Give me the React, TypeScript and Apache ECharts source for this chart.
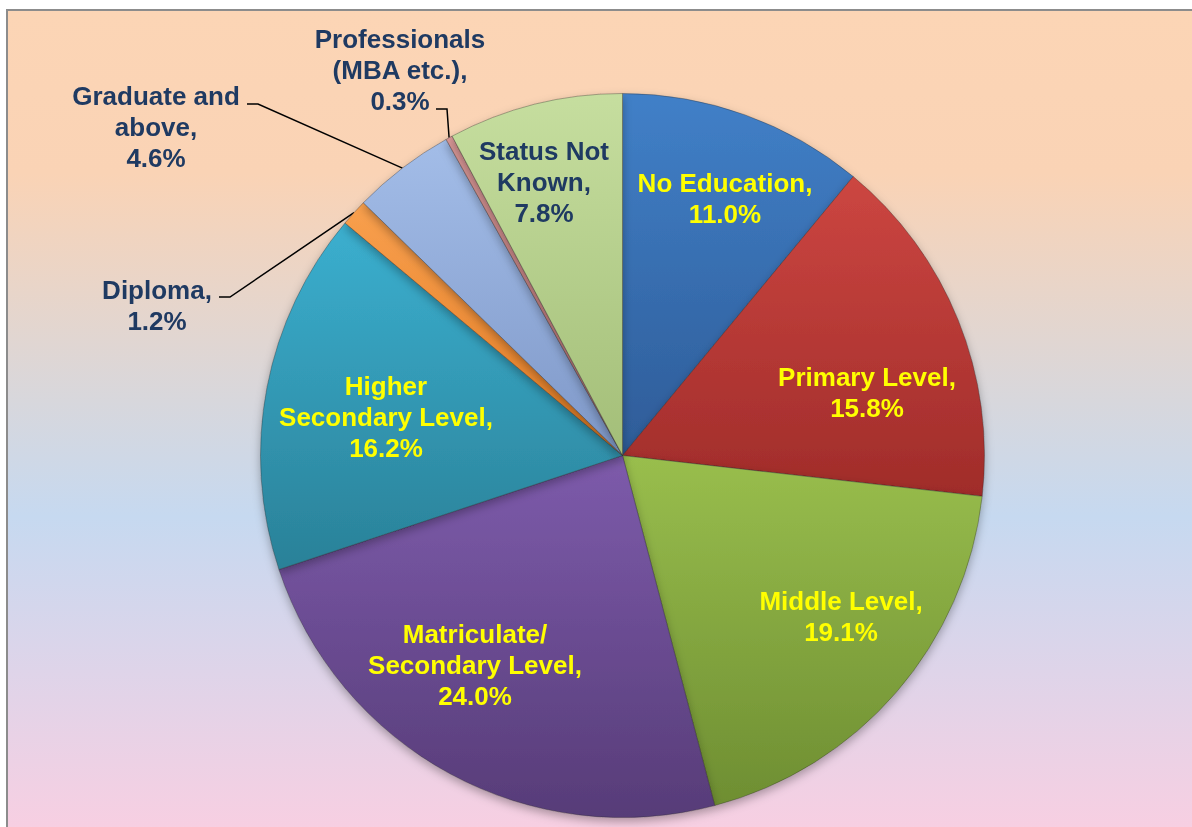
import React, { useEffect, useRef } from "react";
import * as echarts from "echarts";

const categories = [
  "No Education",
  "Primary Level",
  "Middle Level",
  "Matriculate/\nSecondary Level",
  "Higher\nSecondary Level",
  "Diploma",
  "Graduate and\nabove",
  "Professionals\n(MBA etc.)",
  "Status Not\nKnown",
];
const shares = [11.0, 15.8, 19.1, 24.0, 16.2, 1.2, 4.6, 0.3, 7.8];

const topColors = ["#4180C8", "#CC4641", "#99BE4D", "#7D5BAB", "#3BAFCF", "#F9A04E", "#A3BDE8", "#D99897", "#C6DE9F"];
const bottomColors = ["#2E5C98", "#A02C2A", "#6E8E32", "#573C78", "#2A8198", "#E07A22", "#7F98C8", "#B87274", "#A3BE78"];
const labelColors = ["#FFFF00", "#FFFF00", "#FFFF00", "#FFFF00", "#FFFF00", "#1F3A62", "#1F3A62", "#1F3A62", "#1F3A62"];
const isOutside = [false, false, false, false, false, true, true, true, false];
// label block centres
const labelPositions: [number, number][] = [
  [725, 198],
  [867, 392],
  [841, 616],
  [475, 665],
  [386, 417],
  [157, 305],
  [156, 127],
  [400, 70],
  [544, 182],
];
// where the leader line's stub starts, relative to the label centre
const leaderOffsets: ([number, number] | null)[] = [
  null, null, null, null, null,
  [62, -8],
  [91, -23],
  [36, 39],
  null,
];
const STUB = 11;

const CENTER: [number, number] = [622.5, 455.5];
const RADIUS = 362;

export default function App() {
  const ref = useRef<HTMLDivElement>(null);
  useEffect(() => {
    if (!ref.current) return;
    const chart = echarts.init(ref.current, null, { renderer: "svg" });
    const total = shares.reduce((a, b) => a + b, 0);
    const midAngles: number[] = [];
    let acc = 0;
    shares.forEach((v) => {
      midAngles.push(((acc + v / 2) / total) * Math.PI * 2);
      acc += v;
    });
    const data = categories.map((name, i) => ({
      name,
      value: shares[i],
      itemStyle: {
        color: new echarts.graphic.LinearGradient(0, 0, 0, 1, [
          { offset: 0, color: topColors[i] },
          { offset: 1, color: bottomColors[i] },
        ]),
      },
      label: {
        position: isOutside[i] ? "outside" : "inside",
        color: labelColors[i],
      },
      labelLine: {
        show: isOutside[i],
        length: 20,
        length2: 10,
        lineStyle: { color: "#000", width: 1.5 },
      },
    }));
    chart.setOption({
      animation: false,
      graphic: [
        {
          type: "rect",
          z: -10,
          shape: { x: 7, y: 10, width: 1185, height: 817 },
          style: {
            fill: new echarts.graphic.LinearGradient(0, 0, 0, 1, [
              { offset: 0, color: "#FCD5B5" },
              { offset: 0.2, color: "#FAD3B5" },
              { offset: 0.62, color: "#C6D9F0" },
              { offset: 1, color: "#F7CFE2" },
            ]),
          },
        },
        {
          type: "polyline",
          z: -9,
          shape: { points: [[7, 827], [7, 10], [1192, 10]] },
          style: { stroke: "#8C8C8C", lineWidth: 2, fill: "none" },
        },
      ],
      series: [
        {
          type: "pie",
          center: CENTER,
          radius: RADIUS,
          startAngle: 90,
          clockwise: true,
          avoidLabelOverlap: false,
          data,
          itemStyle: {
            borderColor: "rgba(40,40,40,0.35)",
            borderWidth: 1,
            shadowBlur: 10,
            shadowColor: "rgba(0,0,0,0.3)",
            shadowOffsetY: 4,
          },
          label: {
            show: true,
            fontFamily: "'Liberation Sans', Arial, sans-serif",
            fontWeight: "bold",
            fontSize: 26,
            lineHeight: 31,
            align: "center",
            formatter: (p: any) => `${p.name},\n${p.value.toFixed(1)}%`,
          },
          labelLayout: (params: any) => {
            const i = params.dataIndex;
            const [x, y] = labelPositions[i];
            const res: any = { x, y, align: "center", verticalAlign: "middle" };
            const off = leaderOffsets[i];
            if (off) {
              const a = midAngles[i];
              const ax = CENTER[0] + RADIUS * Math.sin(a);
              const ay = CENTER[1] - RADIUS * Math.cos(a);
              const sx = x + off[0];
              const sy = y + off[1];
              res.labelLinePoints = [
                [ax, ay],
                [sx + STUB, sy],
                [sx, sy],
              ];
            }
            return res;
          },
        },
      ],
    });
    return () => chart.dispose();
  }, []);
  return (
    <div
      ref={ref}
      style={{ position: "fixed", left: 0, top: 0, width: 1192, height: 827 }}
    />
  );
}
